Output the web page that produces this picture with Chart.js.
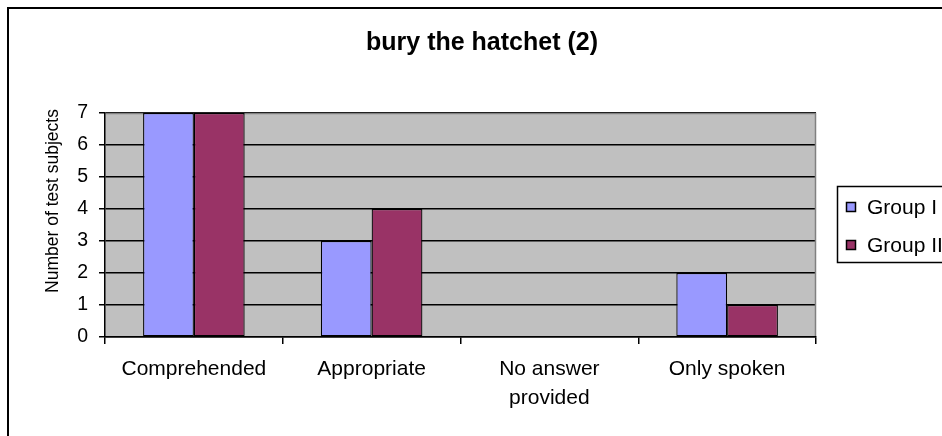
<!DOCTYPE html>
<html>
<head>
<meta charset="utf-8">
<title>bury the hatchet (2)</title>
<script src="https://cdn.jsdelivr.net/npm/chart.js@4.4.1/dist/chart.umd.min.js"></script>
<style>
  html, body { margin: 0; padding: 0; background: #ffffff; }
  #wrap { width: 942px; height: 436px; }
</style>
</head>
<body>
<div id="wrap"><canvas id="chart" width="942" height="436"></canvas></div>
<script>
// Answer categories (the third label wraps onto two lines)
const categories = ['Comprehended', 'Appropriate', ['No answer', 'provided'], 'Only spoken'];
// Number of test subjects per category
const groupI = [7, 3, 0, 2];
const groupII = [7, 4, 0, 1];
const seriesNames = ['Group I', 'Group II'];
const yTicks = [0, 1, 2, 3, 4, 5, 6, 7];

const chartTitle = 'bury the hatchet (2)';
const yAxisTitle = 'Number of test subjects';
const FONT = '"Liberation Sans", Arial, sans-serif';
const colors = ['#9999ff', '#993366'];

// Frame, plot background, titles and legend box in the classic spreadsheet style
const decorations = {
  id: 'decorations',
  beforeDraw(chart) {
    const { ctx, chartArea: a } = chart;
    ctx.save();
    ctx.fillStyle = '#ffffff';
    ctx.fillRect(0, 0, chart.width, chart.height);
    ctx.fillStyle = '#c0c0c0';
    ctx.fillRect(a.left, a.top, a.right - a.left, a.bottom - a.top);
    ctx.restore();
  },
  beforeDatasetsDraw(chart) {
    const { ctx, chartArea: a } = chart;
    ctx.save();
    ctx.strokeStyle = '#808080';
    ctx.lineWidth = 1.5;
    ctx.beginPath();
    ctx.moveTo(a.left + 1, a.top + 0.5);
    ctx.lineTo(a.right - 0.5, a.top + 0.5);
    ctx.lineTo(a.right - 0.5, a.bottom - 1);
    ctx.stroke();
    ctx.restore();
  },
  afterDraw(chart) {
    const { ctx } = chart;
    ctx.save();
    // outer chart frame
    ctx.strokeStyle = '#000000';
    ctx.lineWidth = 2;
    ctx.strokeRect(8, 8, chart.width + 40, chart.height + 40);

    // chart title
    ctx.fillStyle = '#000000';
    ctx.font = 'bold 25px ' + FONT;
    ctx.textAlign = 'center';
    ctx.textBaseline = 'middle';
    ctx.fillText(chartTitle, 482, 43);

    // value axis title
    ctx.font = '17.5px ' + FONT;
    ctx.translate(53, 201);
    ctx.rotate(-Math.PI / 2);
    ctx.fillText(yAxisTitle, 0, 0);
    ctx.setTransform(1, 0, 0, 1, 0, 0);

    // legend
    ctx.lineWidth = 1.5;
    ctx.strokeStyle = '#000000';
    ctx.strokeRect(837.5, 186.5, 200, 76);
    ctx.font = '21px ' + FONT;
    ctx.textAlign = 'left';
    const rows = [207, 245];
    chart.data.datasets.forEach((ds, i) => {
      const cy = rows[i];
      ctx.fillStyle = ds.backgroundColor;
      ctx.fillRect(846, cy - 5, 10, 10);
      ctx.lineWidth = 1.5;
      ctx.strokeRect(846.5, cy - 4.5, 9, 9);
      ctx.fillStyle = '#000000';
      ctx.fillText(ds.label, 867, cy + 1);
    });
    ctx.restore();
  }
};

new Chart(document.getElementById('chart'), {
  type: 'bar',
  data: {
    labels: categories,
    datasets: [
      { label: seriesNames[0], data: groupI, backgroundColor: colors[0] },
      { label: seriesNames[1], data: groupII, backgroundColor: colors[1] }
    ]
  },
  options: {
    responsive: false,
    animation: false,
    devicePixelRatio: 1,
    layout: { padding: { top: 113, right: 126, left: 0, bottom: 0 } },
    datasets: {
      bar: {
        categoryPercentage: 2 / 3.5,
        barPercentage: 1,
        borderColor: '#000000',
        borderWidth: 1.25,
        borderSkipped: false
      }
    },
    plugins: {
      legend: { display: false },
      title: { display: false },
      tooltip: { enabled: false }
    },
    scales: {
      x: {
        afterFit(scale) { scale.height = 99; },
        grid: {
          display: true,
          drawOnChartArea: false,
          drawTicks: true,
          tickLength: 7,
          lineWidth: 1.5,
          color: '#000000',
          offset: true
        },
        border: { display: true, color: '#000000', width: 1.5 },
        ticks: {
          color: '#000000',
          padding: 11,
          maxRotation: 0,
          autoSkip: false,
          font: { family: FONT, size: 21, lineHeight: 29 / 21 }
        }
      },
      y: {
        min: 0,
        max: 7,
        afterFit(scale) { scale.width = 105; },
        afterBuildTicks(scale) { scale.ticks = yTicks.map(v => ({ value: v })); },
        grid: {
          color: '#000000',
          lineWidth: 1.5,
          drawTicks: true,
          tickLength: 6
        },
        border: { display: true, color: '#000000', width: 1.5 },
        ticks: {
          color: '#000000',
          padding: 11,
          font: { family: FONT, size: 19.5 }
        }
      }
    }
  },
  plugins: [decorations]
});
</script>
</body>
</html>
